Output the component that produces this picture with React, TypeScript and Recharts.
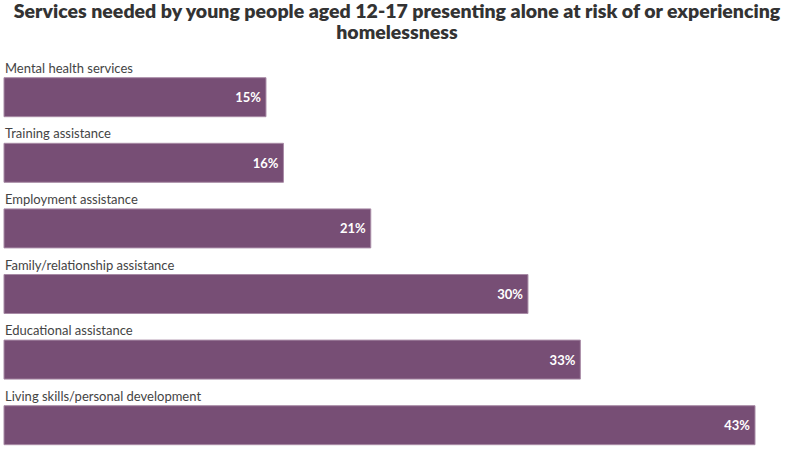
import React from "react";
import { BarChart, Bar, XAxis, YAxis, LabelList } from "recharts";

const categories = [
  "Mental health services",
  "Training assistance",
  "Employment assistance",
  "Family/relationship assistance",
  "Educational assistance",
  "Living skills/personal development",
];
const shares = [15, 16, 21, 30, 33, 43];

const data = categories.map((name, i) => ({ name, value: shares[i] }));

const FONT = "Lato, 'Noto Sans', sans-serif";
const BAR_FILL = "#774e75";

const CategoryLabel = (props: any) => {
  const { x, y, value } = props;
  return (
    <text x={x + 1} y={y - 5} fill="#444" fontSize={13} fontFamily={FONT}>
      {value}
    </text>
  );
};

const ValueLabel = (props: any) => {
  const { x, y, width, height, value } = props;
  return (
    <text
      x={x + width - 5}
      y={y + height / 2}
      fill="#fff"
      fontSize={13}
      fontWeight={700}
      fontFamily={FONT}
      textAnchor="end"
      dominantBaseline="central"
    >
      {value}%
    </text>
  );
};

export default function App() {
  return (
    <div
      style={{
        position: "absolute",
        left: 0,
        top: 0,
        width: 794,
        height: 470,
        background: "#fff",
        fontFamily: FONT,
      }}
    >
      <div
        style={{
          position: "absolute",
          left: 0,
          top: 0,
          width: 794,
          textAlign: "center",
          fontSize: 19.5,
          fontWeight: 800,
          color: "#333",
          lineHeight: "21px",
        }}
      >
        Services needed by young people aged 12-17 presenting alone at risk of or experiencing
        <br />
        homelessness
      </div>
      <BarChart
        width={794}
        height={470}
        data={data}
        layout="vertical"
        margin={{ top: 64.7, right: 39, bottom: 11.7, left: 4 }}
      >
        <XAxis type="number" domain={[0, 43]} hide />
        <YAxis type="category" dataKey="name" hide width={0} />
        <Bar
          dataKey="value"
          fill={BAR_FILL}
          stroke="#a88ba6"
          strokeWidth={1}
          barSize={39}
          isAnimationActive={false}
        >
          <LabelList dataKey="name" content={<CategoryLabel />} />
          <LabelList dataKey="value" content={<ValueLabel />} />
        </Bar>
      </BarChart>
    </div>
  );
}
